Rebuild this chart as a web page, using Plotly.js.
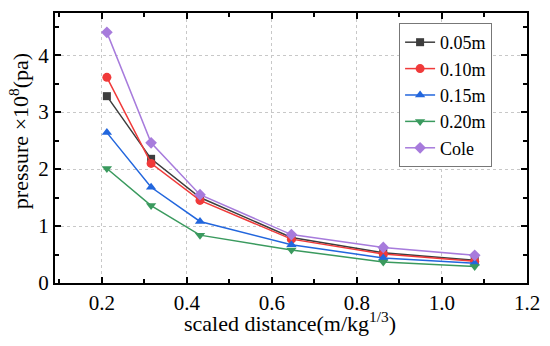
<!DOCTYPE html>
<html><head><meta charset="utf-8">
<script src="https://cdn.plot.ly/plotly-3.0.1.min.js"></script>
<style>
body{margin:0;background:#fff}#c{width:550px;height:346px}
#c .xtick text,#c .ytick text,#c .legendtext{font-family:'Liberation Serif',serif !important}
</style>
</head><body><div id="c"></div>
<script>
const xVals = [0.212, 0.316, 0.431, 0.646, 0.862, 1.077];
const s005 = [3.28, 2.18, 1.50, 0.80, 0.53, 0.40];
const s010 = [3.61, 2.10, 1.45, 0.77, 0.51, 0.38];
const s015 = [2.64, 1.68, 1.08, 0.67, 0.44, 0.345];
const s020 = [2.01, 1.36, 0.84, 0.58, 0.37, 0.29];
const sCole = [4.40, 2.46, 1.55, 0.85, 0.625, 0.485];
const names = ['0.05m', '0.10m', '0.15m', '0.20m', 'Cole'];
const xTicks = [0.2, 0.4, 0.6, 0.8, 1.0, 1.2];
const xTickText = ['0.2', '0.4', '0.6', '0.8', '1.0', '1.2'];
const yTicks = [0, 1, 2, 3, 4];
const series = [s005, s010, s015, s020, sCole];
const colors = ['#3d3d3d', '#f03a3a', '#2266dd', '#3a9a5e', '#a77bdc'];
const symbols = ['square', 'circle', 'triangle-up', 'triangle-down', 'diamond'];
const sizes = [8, 9, 9, 9, 9];

const traces = series.map((y, i) => ({
  x: xVals, y: y, name: names[i], type: 'scatter', mode: 'lines+markers',
  line: {color: colors[i], width: 1.5},
  marker: {color: colors[i], symbol: symbols[i], size: sizes[i]}
}));

const FAM = 'Liberation Serif';
const TICK = 21;
const layout = {
  width: 550, height: 346,
  margin: {l: 55, r: 23, t: 13, b: 63},
  paper_bgcolor: '#fff', plot_bgcolor: '#fff',
  font: {family: FAM, size: 18, color: '#010101'},
  showlegend: true,
  legend: {x: 0.729, y: 0.963, xanchor: 'left', yanchor: 'top',
    bordercolor: '#777', borderwidth: 1, bgcolor: '#fff',
    font: {family: FAM, size: 18, color: '#010101'}, tracegroupgap: 0},
  xaxis: {
    range: [0.09, 1.2], tickmode: 'array', tickvals: xTicks, ticktext: xTickText,
    ticks: 'inside', ticklen: 6, tickwidth: 1.5, tickcolor: '#000',
    minor: {ticks: 'inside', ticklen: 4, dtick: 0.1, tick0: 0, tickcolor: '#000', showgrid: false},
    showline: true, linecolor: '#000', linewidth: 2, mirror: 'ticks',
    showgrid: true, gridcolor: '#c8c8c8', griddash: 'dot', gridwidth: 1,
    zeroline: false,
    tickfont: {family: FAM, size: TICK, color: '#010101'},
    title: {text: 'scaled distance(m/kg<sup>1/3</sup>)', font: {family: FAM, size: 22, color: '#010101'}}
  },
  yaxis: {
    range: [0, 4.74], tickmode: 'array', tickvals: yTicks,
    ticks: 'inside', ticklen: 6, tickwidth: 1.5, tickcolor: '#000',
    minor: {ticks: 'inside', ticklen: 4, dtick: 0.5, tick0: 0, tickcolor: '#000', showgrid: false},
    showline: true, linecolor: '#000', linewidth: 2, mirror: 'ticks',
    showgrid: true, gridcolor: '#c8c8c8', griddash: 'dot', gridwidth: 1,
    zeroline: false,
    tickfont: {family: FAM, size: TICK, color: '#010101'},
    title: {text: 'pressure ×10<sup>8</sup>(pa)', font: {family: FAM, size: 22, color: '#010101'}}
  }
};

function fixText(gd) {
  gd.querySelectorAll('.xtick text, .ytick text').forEach(t => {
    const old = parseFloat(t.style.fontSize) || 12;
    if (Math.abs(old - TICK) > 0.5) {
      const isX = t.parentNode.classList.contains('xtick');
      const d = TICK - old;
      t.style.fontSize = TICK + 'px';
      t.style.fill = '#000';
      t.style.translate = isX ? ('0px ' + (0.7 * d) + 'px') : ('0px ' + (0.35 * d) + 'px');
    }
  });
  const xt = gd.querySelector('.g-xtitle text');
  if (xt) {
    const r = xt.getBoundingClientRect();
    xt.style.translate = (290 - (r.left + r.right) / 2) + 'px ' + (336 - r.bottom) + 'px';
  }
  const yt = gd.querySelector('.g-ytitle text');
  if (yt) {
    const r = yt.getBoundingClientRect();
    yt.style.translate = (33 - r.right) + 'px ' + (131 - (r.top + r.bottom) / 2) + 'px';
  }
}

Plotly.newPlot('c', traces, layout, {displayModeBar: false}).then(gd => fixText(gd));
</script>
</body></html>
